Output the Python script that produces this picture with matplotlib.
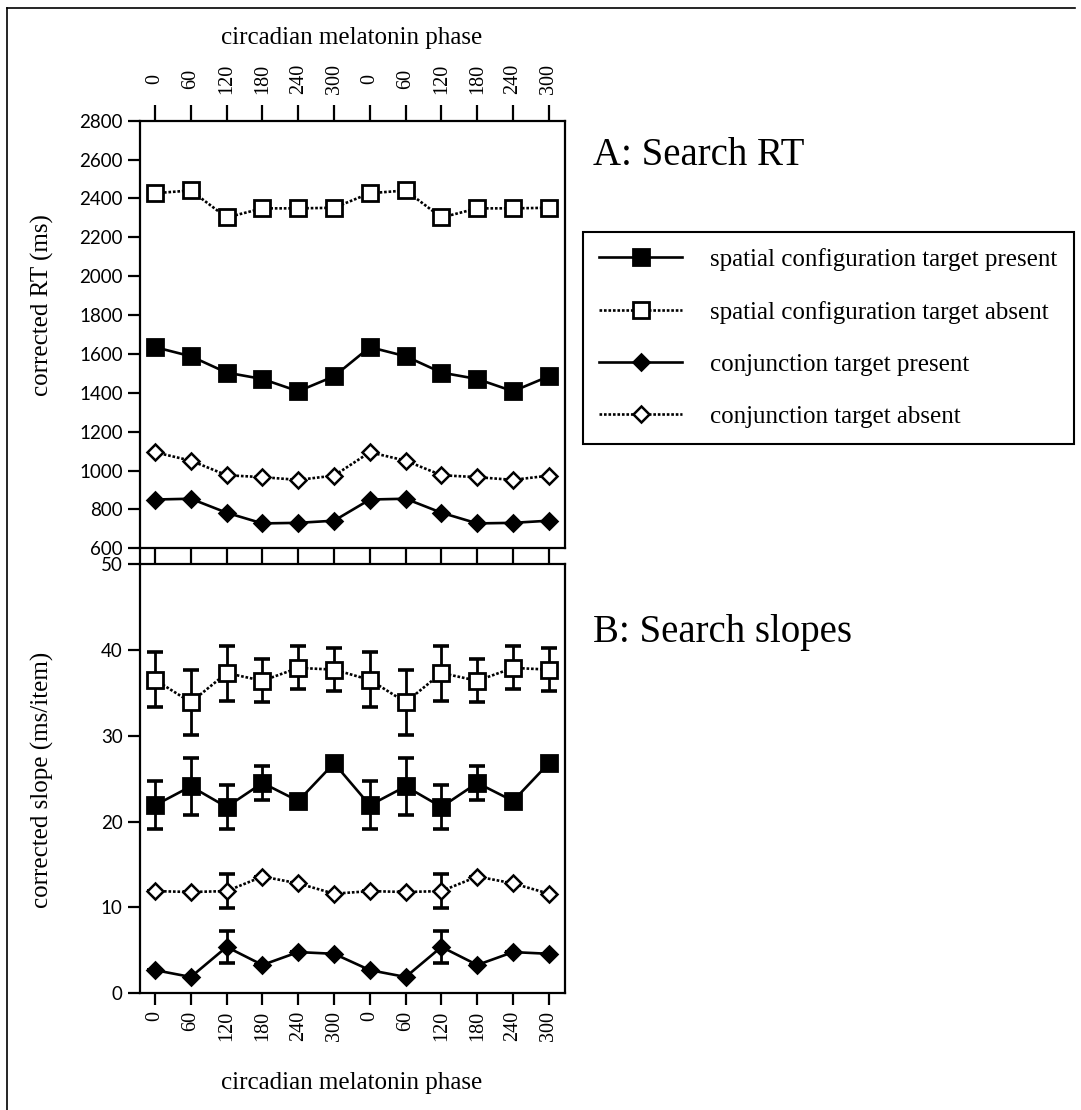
import numpy as np
import matplotlib
matplotlib.use("Agg")
import matplotlib.pyplot as plt
from matplotlib.lines import Line2D

# Data (values double-plotted over two cycles)
phase_labels = ['0', '60', '120', '180', '240', '300', '0', '60', '120', '180', '240', '300']

# A: search RT (ms)
sc_present_rt = [1635, 1588, 1504, 1471, 1408, 1485, 1635, 1588, 1504, 1471, 1408, 1485]
sc_absent_rt = [2427, 2441, 2302, 2349, 2349, 2352, 2427, 2441, 2302, 2349, 2349, 2352]
conj_present_rt = [851, 855, 783, 728, 731, 742, 851, 855, 783, 728, 731, 742]
conj_absent_rt = [1094, 1051, 976, 966, 952, 974, 1094, 1051, 976, 966, 952, 974]

# B: search slopes (ms/item) with error bars
sc_present_slope = [21.9, 24.1, 21.7, 24.5, 22.4, 26.8, 21.9, 24.1, 21.7, 24.5, 22.4, 26.8]
sc_present_err = [2.8, 3.3, 2.6, 2.0, 0, 0, 2.8, 3.3, 2.6, 2.0, 0, 0]
sc_absent_slope = [36.5, 33.9, 37.3, 36.4, 37.9, 37.7, 36.5, 33.9, 37.3, 36.4, 37.9, 37.7]
sc_absent_err = [3.2, 3.8, 3.2, 2.5, 2.5, 2.5, 3.2, 3.8, 3.2, 2.5, 2.5, 2.5]
conj_present_slope = [2.7, 1.9, 5.4, 3.3, 4.8, 4.6, 2.7, 1.9, 5.4, 3.3, 4.8, 4.6]
conj_present_err = [0, 0, 1.85, 0, 0, 0, 0, 0, 1.85, 0, 0, 0]
conj_absent_slope = [11.9, 11.8, 11.9, 13.6, 12.8, 11.6, 11.9, 11.8, 11.9, 13.6, 12.8, 11.6]
conj_absent_err = [0, 0, 2.0, 0, 0, 0, 0, 0, 2.0, 0, 0, 0]

legend_labels = ['spatial configuration target present',
                 'spatial configuration target absent',
                 'conjunction target present',
                 'conjunction target absent']

SERIF = 'Liberation Serif'
SANS = 'Lato'
W, H = 1081, 1110
DOTTED = (0, (1, 0.7))

fig = plt.figure(figsize=(W / 100, H / 100), dpi=100)

def fx(px):
    return px / W

def fy(py):
    return 1 - py / H

ax_a = fig.add_axes([fx(140), fy(548.3), fx(565) - fx(140), fy(120.7) - fy(548.3)])
ax_b = fig.add_axes([fx(140), fy(993.3), fx(565) - fx(140), fy(564) - fy(993.3)])

x = np.arange(len(phase_labels))

sq = dict(marker='s', markersize=11.5, markeredgewidth=2.0, markeredgecolor='black')
dm = dict(marker='D', markersize=8.5, markeredgewidth=1.8, markeredgecolor='black')


def draw_series(ax, vals, style, filled, solid, label=None, err=None):
    if err is not None:
        ax.errorbar(x, vals, yerr=err, fmt='none', ecolor='black', elinewidth=2.0,
                    capsize=5.5, capthick=2.6, zorder=2)
    ax.plot(x, vals, color='black', linewidth=1.9,
            linestyle='-' if solid else DOTTED,
            markerfacecolor='black' if filled else 'white',
            label=label, zorder=3, **style)


# Panel A
draw_series(ax_a, sc_present_rt, sq, True, True, legend_labels[0])
draw_series(ax_a, sc_absent_rt, sq, False, False, legend_labels[1])
draw_series(ax_a, conj_present_rt, dm, True, True, legend_labels[2])
draw_series(ax_a, conj_absent_rt, dm, False, False, legend_labels[3])

# Panel B
draw_series(ax_b, sc_present_slope, sq, True, True, err=sc_present_err)
draw_series(ax_b, sc_absent_slope, sq, False, False, err=sc_absent_err)
draw_series(ax_b, conj_present_slope, dm, True, True, err=conj_present_err)
draw_series(ax_b, conj_absent_slope, dm, False, False, err=conj_absent_err)

for ax in (ax_a, ax_b):
    ax.set_xlim(-0.42, 11.45)
    for s in ax.spines.values():
        s.set_linewidth(1.6)
    ax.tick_params(axis='y', direction='out', length=8.5, width=1.6, pad=4)

ax_a.set_ylim(600, 2800)
ax_a.set_yticks(np.arange(600, 2801, 200))
ax_b.set_ylim(0, 50)
ax_b.set_yticks(np.arange(0, 51, 10))

# top panel: labelled ticks on top, bare ticks at the bottom bridging the gap
ax_a.set_xticks(x)
ax_a.set_xticklabels(phase_labels, rotation=90, fontfamily=SERIF, fontsize=14.5, va='center')
ax_a.tick_params(axis='x', top=True, labeltop=True, bottom=True, labelbottom=False,
                 direction='out', width=1.6, length=11.4, pad=18.5)

ax_b.set_xticks(x)
ax_b.set_xticklabels(phase_labels, rotation=90, fontfamily=SERIF, fontsize=14.5)
ax_b.tick_params(axis='x', direction='out', length=8.5, width=1.6, pad=4)

for ax in (ax_a, ax_b):
    for lab in ax.get_yticklabels():
        lab.set_fontfamily(SANS)
        lab.set_fontsize(13.5)

# left spine runs continuously through the gap
fig.add_artist(Line2D([fx(140), fx(140)], [fy(548.3), fy(564)], color='black', linewidth=1.6))

# axis titles
fig.text(fx(352), fy(38), 'circadian melatonin phase', ha='center', va='center',
         fontfamily=SERIF, fontsize=18)
fig.text(fx(352), fy(1083), 'circadian melatonin phase', ha='center', va='center',
         fontfamily=SERIF, fontsize=18)
fig.text(fx(42), fy(305), 'corrected RT (ms)', rotation=90, ha='center', va='center',
         fontfamily=SERIF, fontsize=18)
fig.text(fx(42), fy(780), 'corrected slope (ms/item)', rotation=90, ha='center', va='center',
         fontfamily=SERIF, fontsize=18)

# panel titles
fig.text(fx(593), fy(165), 'A: Search RT', ha='left', va='baseline', fontfamily=SERIF, fontsize=28)
fig.text(fx(593), fy(642), 'B: Search slopes', ha='left', va='baseline', fontfamily=SERIF, fontsize=28)

# legend
handles, labels = ax_a.get_legend_handles_labels()
leg = fig.legend(handles, labels, loc='upper left', bbox_to_anchor=(fx(583), fy(232)),
                 frameon=True, fancybox=False, edgecolor='black', framealpha=1,
                 borderpad=0.65, labelspacing=1.18, handlelength=3.3, handletextpad=1.15,
                 borderaxespad=0, prop={'family': SERIF, 'size': 18})
leg.get_frame().set_linewidth(1.5)

# page frame (top and left edges)
fig.add_artist(Line2D([fx(7), fx(1075)], [fy(8), fy(8)], color='black', linewidth=1.2))
fig.add_artist(Line2D([fx(7), fx(7)], [fy(8), 0], color='black', linewidth=1.2))

fig.savefig('out.png', dpi=100)
